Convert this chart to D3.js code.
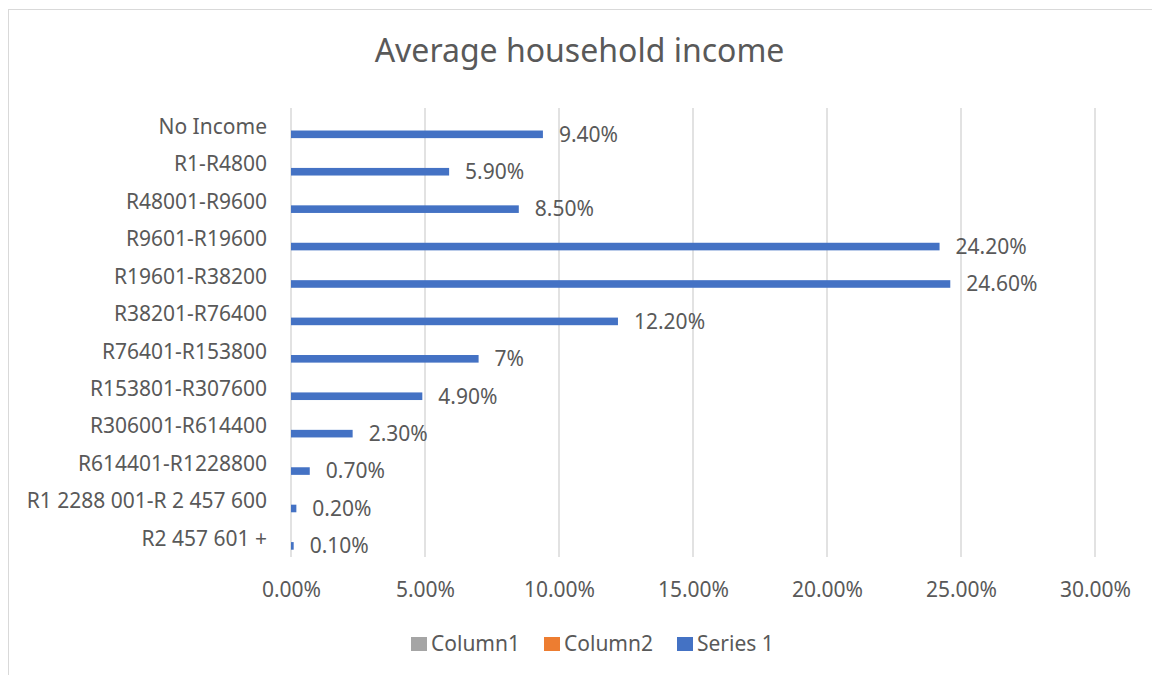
<!DOCTYPE html>
<html>
<head>
<meta charset="utf-8">
<script src="https://cdn.jsdelivr.net/npm/d3@7"></script>
<style>
  html, body { margin: 0; padding: 0; background: #ffffff; }
  svg { display: block; }
  text { font-family: "Noto Sans", "Open Sans", sans-serif; fill: #595959; }
</style>
</head>
<body>
<svg id="chart" width="1152" height="675"></svg>
<script>
// Household income bands, top to bottom
const categories = [
  "No Income",
  "R1-R4800",
  "R48001-R9600",
  "R9601-R19600",
  "R19601-R38200",
  "R38201-R76400",
  "R76401-R153800",
  "R153801-R307600",
  "R306001-R614400",
  "R614401-R1228800",
  "R1 2288 001-R 2 457 600",
  "R2 457 601 +"
];

// Share of households (percent)
const series1 = [9.4, 5.9, 8.5, 24.2, 24.6, 12.2, 7, 4.9, 2.3, 0.7, 0.2, 0.1];

// Data labels as shown beside each bar
const valueLabels = ["9.40%", "5.90%", "8.50%", "24.20%", "24.60%", "12.20%", "7%", "4.90%", "2.30%", "0.70%", "0.20%", "0.10%"];

// Value axis ticks
const xTicks = [0, 5, 10, 15, 20, 25, 30];

// Legend entries
const legendNames = ["Column1", "Column2", "Series 1"];
const legendColors = ["#A5A5A5", "#ED7D31", "#4472C4"];

const svg = d3.select("#chart");

// Chart area outline
svg.append("rect")
  .attr("x", 8.5).attr("y", 9.5)
  .attr("width", 1160).attr("height", 680)
  .attr("fill", "#ffffff")
  .attr("stroke", "#D9D9D9").attr("stroke-width", 1);

const plot = { left: 291, right: 1095, top: 108, bottom: 557 };

const x = d3.scaleLinear().domain([0, 30]).range([plot.left, plot.right]);
const y = d3.scaleBand().domain(categories).range([plot.top, plot.bottom]).padding(0);

// Three series share each category slot; Series 1 sits in the lowest third
const step = y.bandwidth();
const barH = step / 4.92;
const barOffset = barH * 0.5;

const labelSize = "21px";

// Title
svg.append("text")
  .attr("x", 579.5).attr("y", 62)
  .attr("text-anchor", "middle")
  .style("font-size", "32px")
  .text("Average household income");

// Vertical gridlines
svg.append("g")
  .selectAll("line")
  .data(xTicks)
  .join("line")
  .attr("x1", d => x(d)).attr("x2", d => x(d))
  .attr("y1", plot.top).attr("y2", plot.bottom)
  .attr("stroke", "#D9D9D9").attr("stroke-width", 1.5);

// Value axis labels
const xAxis = d3.axisBottom(x)
  .tickValues(xTicks)
  .tickSize(0)
  .tickPadding(0)
  .tickFormat(d => d3.format(".2f")(d) + "%");

const gx = svg.append("g")
  .attr("transform", `translate(0, ${plot.bottom + 25})`)
  .call(xAxis);
gx.select(".domain").remove();
gx.selectAll("text")
  .attr("dy", "0.71em")
  .style("font-size", labelSize)
  .attr("fill", "#595959");

// Category axis labels
const yAxis = d3.axisLeft(y).tickSize(0).tickPadding(24);
const gy = svg.append("g")
  .attr("transform", `translate(${plot.left}, 0)`)
  .call(yAxis);
gy.select(".domain").remove();
gy.selectAll("text")
  .attr("dy", "0.35em")
  .style("font-size", labelSize)
  .attr("fill", "#595959");

// Bars
svg.append("g")
  .selectAll("rect")
  .data(series1)
  .join("rect")
  .attr("x", x(0))
  .attr("y", (d, i) => y(categories[i]) + step / 2 + barOffset)
  .attr("width", d => x(d) - x(0))
  .attr("height", barH)
  .attr("fill", "#4472C4");

// Data labels
svg.append("g")
  .selectAll("text")
  .data(series1)
  .join("text")
  .attr("x", d => x(d) + 16)
  .attr("y", (d, i) => y(categories[i]) + step / 2 + barOffset + barH / 2)
  .attr("dy", "0.35em")
  .style("font-size", labelSize)
  .attr("fill", "#404040")
  .text((d, i) => valueLabels[i]);

// Legend
const legend = svg.append("g");
let lx = 411;
const ly = 644;
legendNames.forEach((name, i) => {
  legend.append("rect")
    .attr("x", lx).attr("y", ly - 7)
    .attr("width", 16).attr("height", 14)
    .attr("fill", legendColors[i]);
  const t = legend.append("text")
    .attr("x", lx + 20).attr("y", ly)
    .attr("dy", "0.35em")
    .style("font-size", labelSize)
    .text(name);
  lx += 20 + t.node().getComputedTextLength() + 24;
});
</script>
</body>
</html>
